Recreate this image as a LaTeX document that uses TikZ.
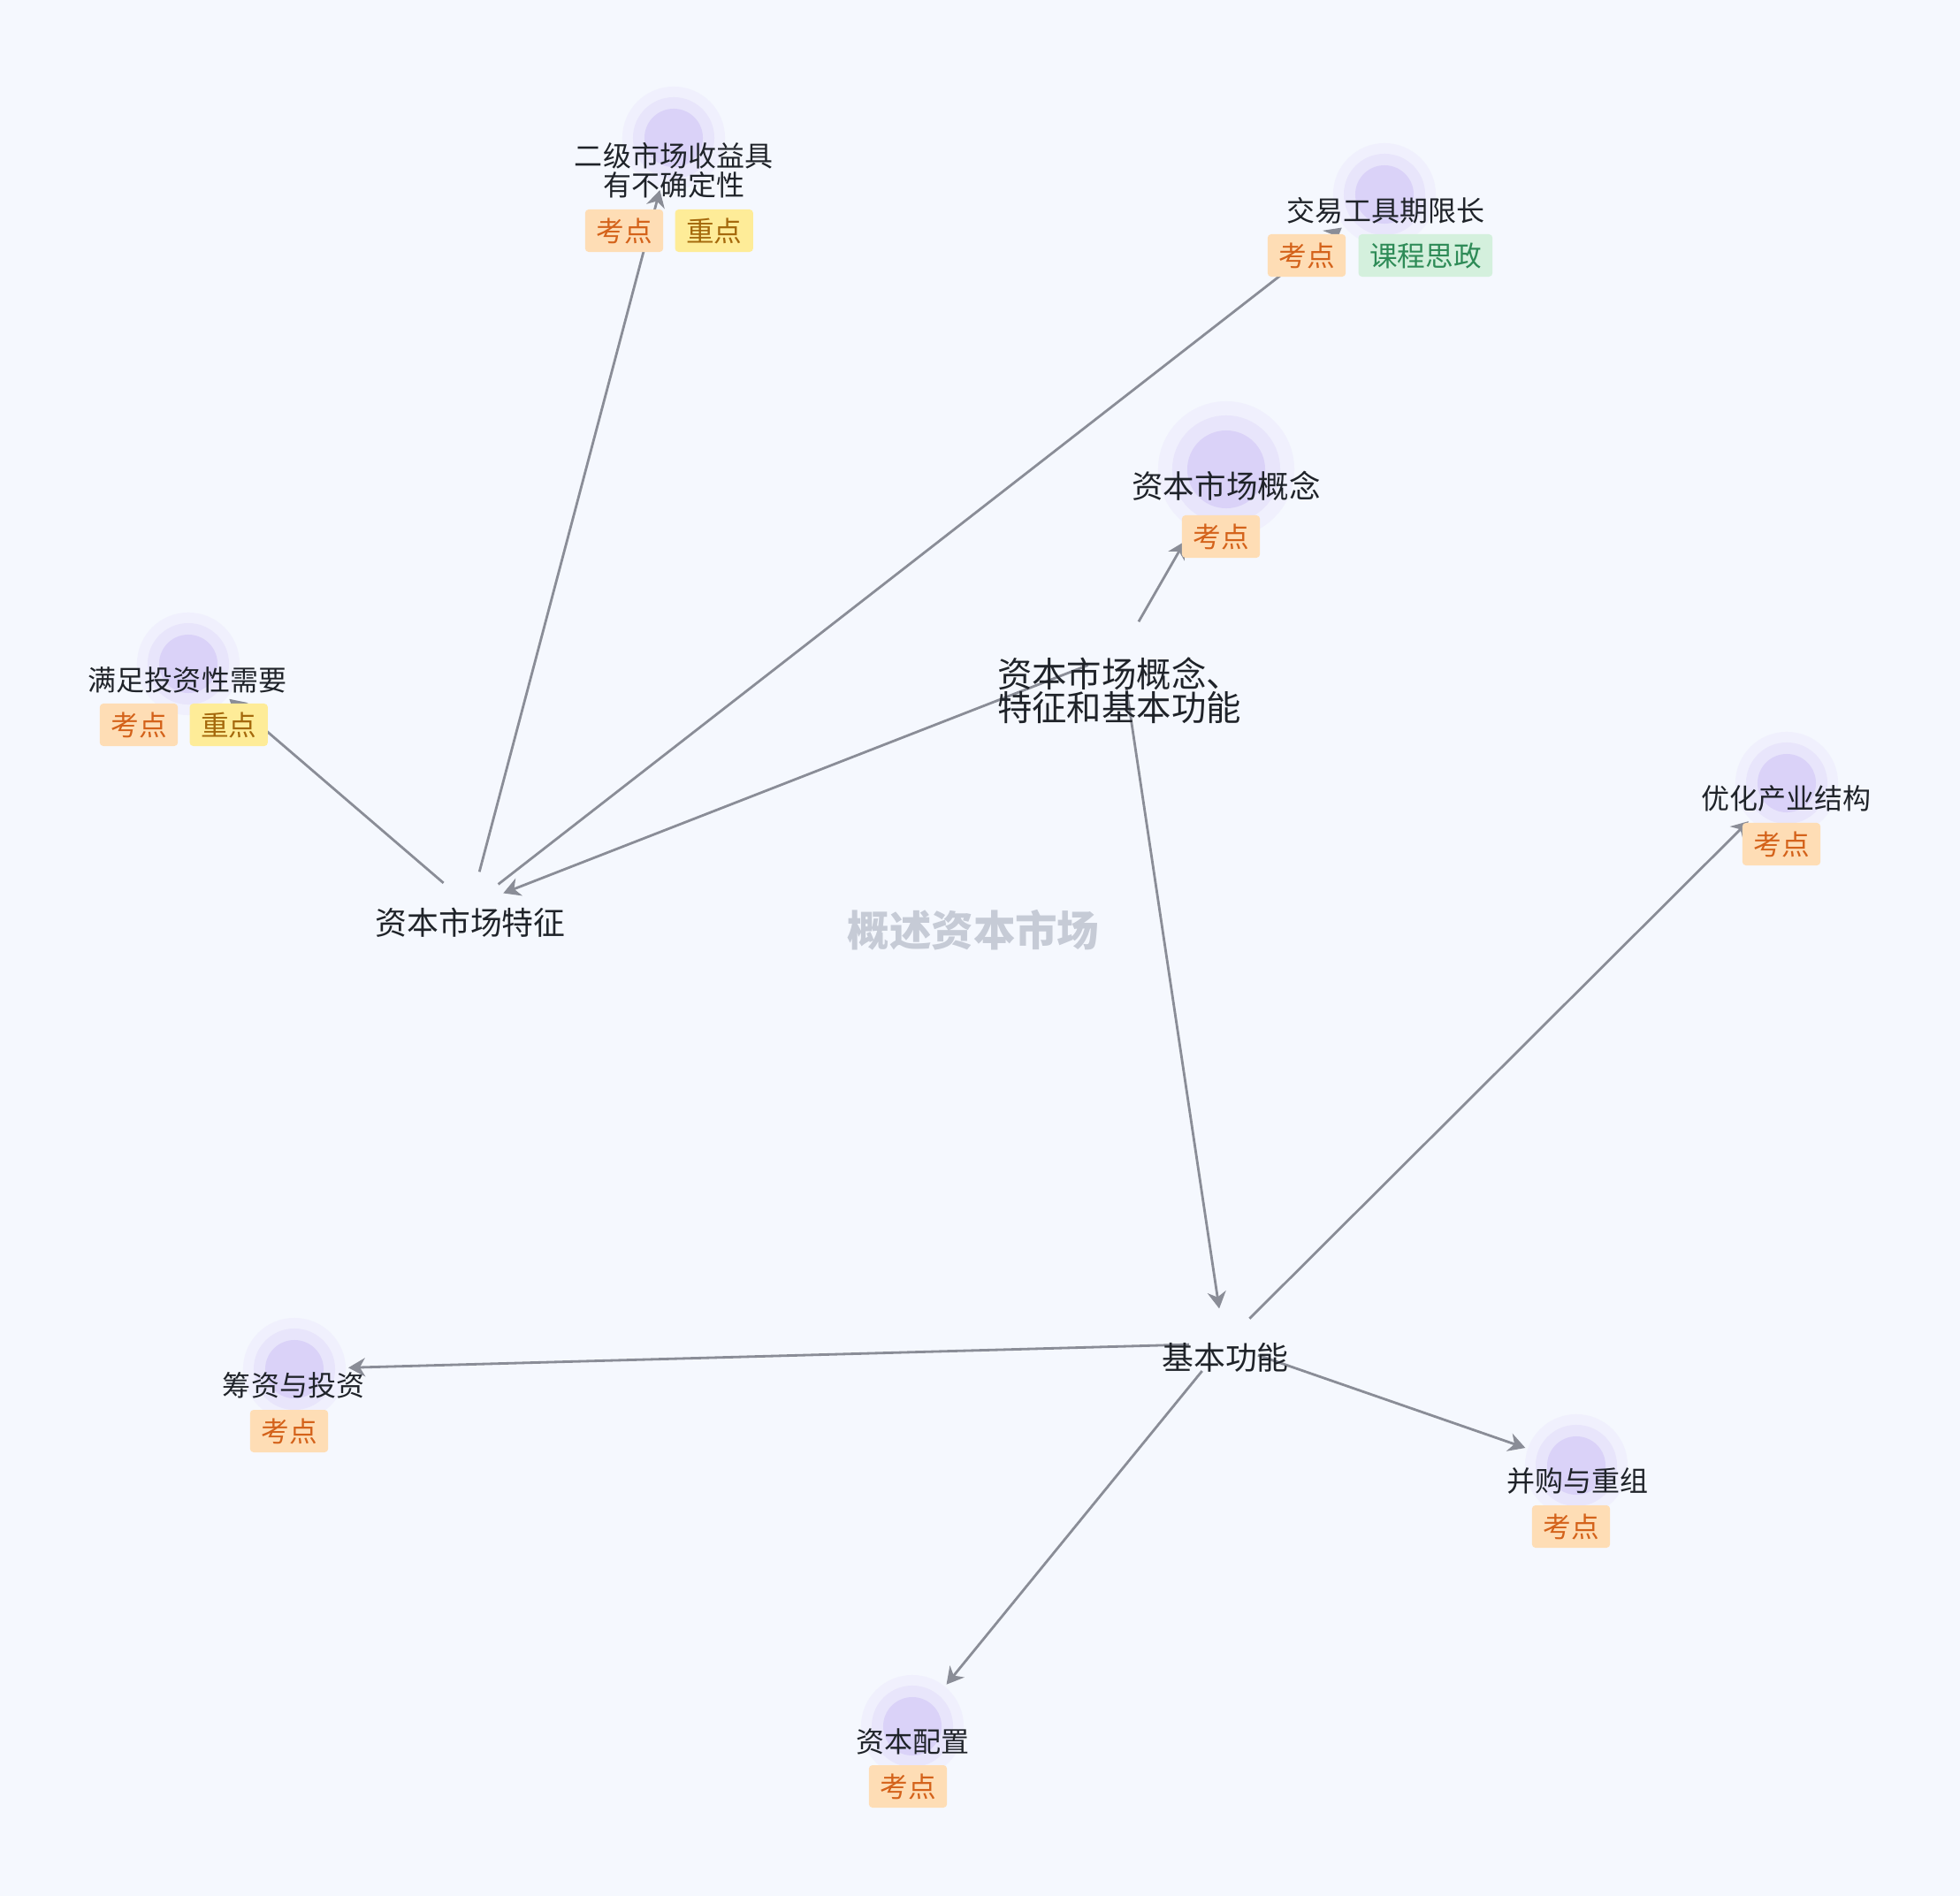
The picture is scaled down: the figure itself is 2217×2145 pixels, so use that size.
\documentclass[tikz,border=0pt]{standalone}
\usepackage{fontspec}
\setmainfont{Noto Sans CJK SC}
\usepackage{xcolor}
\usetikzlibrary{positioning, arrows.meta}

\definecolor{bgc}{HTML}{F5F8FE}
\definecolor{ink}{HTML}{1F2329}
\definecolor{dotin}{HTML}{DAD2F8}
\definecolor{halo1}{HTML}{E8E5FB}
\definecolor{halo2}{HTML}{F0F0FD}
\definecolor{edgec}{HTML}{8A8D97}
\definecolor{kaofill}{HTML}{FEDDB5}
\definecolor{kaotext}{HTML}{D4621A}
\definecolor{zhongfill}{HTML}{FEEC98}
\definecolor{zhongtext}{HTML}{A5690C}
\definecolor{szfill}{HTML}{D4F0DD}
\definecolor{sztext}{HTML}{2E8B57}
\definecolor{wmc}{HTML}{C6CBD6}

\begin{document}
\begin{tikzpicture}[x=0.01cm, y=-0.01cm,
    dot/.style={circle, inner sep=0pt, outer sep=0pt, minimum size=0.66cm, fill=dotin,
                preaction={draw=halo2, line width=0.50cm},
                preaction={draw=halo1, line width=0.26cm}},
    bigdot/.style={circle, inner sep=0pt, outer sep=0pt, minimum size=0.88cm, fill=dotin,
                   preaction={draw=halo2, line width=0.66cm},
                   preaction={draw=halo1, line width=0.34cm}},
    leaf/.style={font=\fontsize{9.1}{9.3}\selectfont, text=ink, inner sep=0pt, align=center},
    bigleaf/.style={font=\fontsize{10.1}{10.3}\selectfont, text=ink, inner sep=0pt},
    hubl/.style={font=\fontsize{11.2}{10.8}\selectfont, text=ink,
                 inner sep=0pt, align=left},
    mainl/.style={font=\fontsize{10.2}{10.4}\selectfont, text=ink, inner sep=0pt},
    tag/.style={rounded corners=0.04cm, inner xsep=0.125cm, inner ysep=0pt,
                minimum height=0.48cm, font=\fontsize{9}{9}\selectfont},
    kao/.style={tag, fill=kaofill, text=kaotext},
    zhong/.style={tag, fill=zhongfill, text=zhongtext},
    sizheng/.style={tag, fill=szfill, text=sztext},
    wm/.style={font=\fontsize{13.5}{14}\selectfont\bfseries, text=wmc, inner sep=0pt},
    edge/.style={draw=edgec, line width=0.8pt, shorten <=0.4cm,
                 -{Stealth[length=0.19cm, width=0.21cm, inset=0.06cm]}}]

    % background and page size
    \fill[bgc] (0,0) rectangle (2217,2145);

    % ============ centres of the three main topics ============
    \coordinate (hub) at (1268,738);
    \coordinate (tz) at (532,1025);
    \coordinate (jbgn) at (1385,1520);

    % ============ leaf dots ============
    \node[dot] (ejsc) at (762,156) {};
    \node[dot] (jygj) at (1566,220) {};
    \node[bigdot] (zbgn) at (1387,531) {};
    \node[dot] (mztz) at (213,751) {};
    \node[dot] (yhcy) at (2021,886) {};
    \node[dot] (czty) at (333,1549) {};
    \node[dot] (bgcz) at (1783,1658) {};
    \node[dot] (zbpz) at (1032,1953) {};

    % ============ connectors ============
    \draw[edge, shorten >=0.5cm] (hub) -- (zbgn);
    \draw[edge, shorten >=0.4cm] (hub) -- (tz);
    \draw[edge, shorten >=0.4cm] (hub) -- (jbgn);

    \draw[edge, shorten >=0.28cm] (tz) -- (ejsc);
    \draw[edge, shorten >=0.28cm] (tz) -- (jygj);
    \draw[edge, shorten >=0.28cm] (tz) -- (mztz);

    \draw[edge, shorten >=0.28cm] (jbgn) -- (yhcy);
    \draw[edge, shorten >=0.28cm] (jbgn) -- (czty);
    \draw[edge, shorten >=0.28cm] (jbgn) -- (bgcz);
    \draw[edge, shorten >=0.28cm] (jbgn) -- (zbpz);

    % ============ watermark ============
    \node[wm] (title) at (1101,1052) {概述资本市场};

    % ============ main labels ============
    \node[hubl] (hubt) at (1266,781) {资本市场概念、\\特征和基本功能};
    \node[mainl] (tzt) at (532,1044) {资本市场特征};
    \node[mainl] (jbgnt) at (1386,1536) {基本功能};

    % ============ leaf labels and tags ============
    \node[leaf] (ejsct) at (762,193) {二级市场收益具\\有不确定性};
    \node[kao] (ejsck) at (706,261) {考点};
    \node[zhong, right=0.12cm of ejsck] (ejscz) {重点};

    \node[leaf] (jygjt) at (1567,238) {交易工具期限长};
    \node[kao] (jygjk) at (1478,289) {考点};
    \node[sizheng, right=0.13cm of jygjk] (jygjs) {课程思政};

    \node[bigleaf] (zbgnt) at (1387,550) {资本市场概念};
    \node[kao] (zbgnk) at (1381,607) {考点};

    \node[leaf] (mztzt) at (212,769) {满足投资性需要};
    \node[kao] (mztzk) at (157,820) {考点};
    \node[zhong, right=0.12cm of mztzk] (mztzz) {重点};

    \node[leaf] (yhcyt) at (2020,903) {优化产业结构};
    \node[kao] (yhcyk) at (2015,955) {考点};

    \node[leaf] (cztyt) at (332,1567) {筹资与投资};
    \node[kao] (cztyk) at (327,1619) {考点};

    \node[leaf] (bgczt) at (1784,1675) {并购与重组};
    \node[kao] (bgczk) at (1777,1727) {考点};

    \node[leaf] (zbpzt) at (1032,1970) {资本配置};
    \node[kao] (zbpzk) at (1027,2021) {考点};

\end{tikzpicture}
\end{document}
